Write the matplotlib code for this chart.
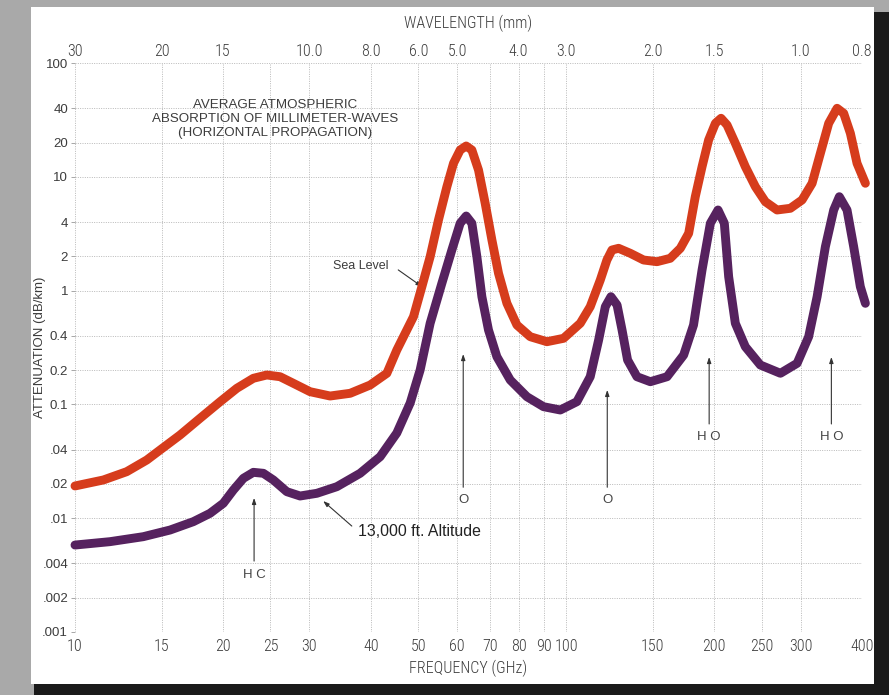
import matplotlib
matplotlib.use("Agg")
import matplotlib.pyplot as plt
from matplotlib.patches import Rectangle
from matplotlib import font_manager

# ---------------- data ----------------
sea_freq = [10, 11.42, 12.74, 14.0, 14.9, 16.36, 17.97, 19.74, 21.35, 23.07, 24.57, 26.15,
            27.83, 30.10, 33.06, 36.32, 39.89, 43.14, 45.2, 48.87, 50.83, 52.84, 54.94,
            57.15, 58.95, 60.82, 62.56, 64.25, 66.28, 68.39, 70.58, 72.80, 75.72, 79.36,
            84.48, 91.34, 98.74, 106.8, 111.9, 117.3, 121.0, 123.9, 127.8, 135.0, 143.7,
            153.0, 162.8, 170.7, 177.5, 183.1, 189.0, 194.9, 201.2, 206.6, 212.5, 220.9,
            231.5, 242.7, 254.3, 268.6, 285.9, 302, 316.6, 329.1, 342.2, 355.9, 367.1,
            378.8, 390.8, 406.4]
sea_atten = [0.0192, 0.02167, 0.02563, 0.03246, 0.03975, 0.0538, 0.0755, 0.1056, 0.1385,
             0.1696, 0.1813, 0.1751, 0.1532, 0.1293, 0.1185, 0.1252, 0.1480, 0.1877,
             0.3006, 0.590, 1.082, 1.986, 4.173, 8.18, 13.14, 17.2, 18.65, 17.2, 11.48,
             5.85, 2.784, 1.419, 0.7732, 0.4984, 0.3934, 0.3556, 0.3808, 0.5161, 0.7222,
             1.239, 1.857, 2.274, 2.353, 2.127, 1.857, 1.795, 1.922, 2.353, 3.187, 6.686,
             12.27, 21.05, 29.52, 32.67, 28.52, 19.70, 12.27, 8.18, 6.04, 5.109, 5.287,
             6.254, 8.768, 16.09, 29.52, 40.0, 36.14, 24.11, 13.14, 8.77]

alt_freq = [10, 11.78, 13.77, 15.61, 17.41, 18.83, 20.04, 21.01, 22.02, 23.07, 24.18, 25.34,
            26.99, 28.72, 31.07, 34.12, 38.05, 41.80, 45.2, 48.12, 50.42, 52.84, 55.82,
            58.50, 60.82, 62.56, 64.25, 65.78, 67.34, 69.46, 72.24, 76.91, 83.17, 89.9,
            97.23, 105.1, 111.9, 116.4, 120.1, 123.3, 126.9, 129.9, 133.3, 139.3, 148.3,
            160.4, 173.4, 181.6, 189.0, 196.5, 203.7, 209.8, 214.1, 220.9, 231.5, 248.4,
            272.9, 295.1, 311.5, 324.1, 336.9, 350.3, 359.7, 372.9, 384.7, 396.9, 406.4]
alt_atten = [0.00581, 0.00622, 0.00688, 0.00787, 0.00932, 0.01104, 0.01352, 0.0177, 0.02242,
             0.0253, 0.0248, 0.02166, 0.0171, 0.01567, 0.01655, 0.01892, 0.0248, 0.03471,
             0.05607, 0.1029, 0.2006, 0.5161, 1.159, 2.274, 3.903, 4.524, 3.903, 1.986,
             0.8842, 0.4506, 0.2626, 0.1638, 0.1168, 0.09546, 0.08929, 0.1056, 0.1751,
             0.3681, 0.7222, 0.8842, 0.747, 0.4506, 0.2456, 0.1751, 0.1583, 0.1751, 0.2717,
             0.4984, 1.517, 3.903, 5.109, 3.903, 1.325, 0.5161, 0.3214, 0.2219, 0.1877,
             0.2297, 0.3934, 0.8842, 2.431, 5.109, 6.686, 5.109, 2.431, 1.082, 0.773]

freq_ticks = [10, 15, 20, 25, 30, 40, 50, 60, 70, 80, 90, 100, 150, 200, 250, 300, 400]
freq_labels = ["10", "15", "20", "25", "30", "40", "50", "60", "70", "80", "90", "100",
               "150", "200", "250", "300", "400"]
wl_tick_freqs = [10, 15, 20, 30, 40, 50, 60, 80, 100, 150, 200, 300, 400]
wl_labels = ["30", "20", "15", "10.0", "8.0", "6.0", "5.0", "4.0", "3.0", "2.0", "1.5",
             "1.0", "0.8"]
atten_ticks = [100, 40, 20, 10, 4, 2, 1, 0.4, 0.2, 0.1, 0.04, 0.02, 0.01, 0.004, 0.002, 0.001]
atten_labels = ["100", "40", "20", "10", "4", "2", "1", "0.4", "0.2", "0.1", ".04", ".02",
                ".01", ".004", ".002", ".001"]

# ---------------- style ----------------
names = {f.name for f in font_manager.fontManager.ttflist}
narrow = next((n for n in ["Roboto Condensed", "Open Sans Condensed", "Liberation Sans Narrow",
                           "Roboto"] if n in names), "DejaVu Sans")
regular = ["Liberation Sans", "DejaVu Sans"]
txt = "#3c3c3c"
RED = "#d63c1c"
PURPLE = "#56225f"

W, H = 889, 695
fig = plt.figure(figsize=(W / 100, H / 100), dpi=100, facecolor="#a9a9a9")

# paper and dark borders of the scan
fig.patches.append(Rectangle((31 / W, 1 - 684 / H), (874 - 31) / W, (684 - 7) / H,
                             transform=fig.transFigure, facecolor="white", edgecolor="none", zorder=-10))
fig.patches.append(Rectangle((874 / W, 0), 15 / W, 1 - 12 / H, transform=fig.transFigure,
                             facecolor="#1a1a1a", edgecolor="none", zorder=-9))
fig.patches.append(Rectangle((34 / W, 0), (W - 34) / W, (H - 684) / H, transform=fig.transFigure,
                             facecolor="#1a1a1a", edgecolor="none", zorder=-9))

L, R, T, B = 75, 862, 63, 632
ax = fig.add_axes([L / W, 1 - B / H, (R - L) / W, (B - T) / H])
ax.set_facecolor("none")
ax.set_xscale("log")
ax.set_yscale("log")
ax.set_xlim(10, 400)
ax.set_ylim(0.001, 100)
for s in ax.spines.values():
    s.set_visible(False)

ax.set_xticks(freq_ticks)
ax.set_xticklabels(freq_labels, fontfamily=narrow, fontweight="light", fontsize=11.5, color=txt)
ax.set_xticks([], minor=True)
ax.set_yticks(atten_ticks)
ax.set_yticklabels(atten_labels, fontfamily=regular, fontsize=9.5, color=txt)
ax.set_yticks([], minor=True)
ax.tick_params(axis="x", length=0, pad=5)
ax.tick_params(axis="y", length=3, width=0.6, color="#999999", pad=2)
ax.grid(True, which="major", color="#b8b8b8", linestyle=(0, (1, 1.4)), linewidth=0.7)

top = ax.twiny()
top.set_xscale("log")
top.set_xlim(10, 400)
for s in top.spines.values():
    s.set_visible(False)
top.set_xticks(wl_tick_freqs)
top.set_xticklabels(wl_labels, fontfamily=narrow, fontweight="light", fontsize=11.5, color=txt)
top.set_xticks([], minor=True)
top.tick_params(axis="x", length=0, pad=3)

ax.set_xlabel("FREQUENCY (GHz)", fontfamily=narrow, fontweight="light", fontsize=11.5,
              color=txt, labelpad=4)
top.set_xlabel("WAVELENGTH (mm)", fontfamily=narrow, fontweight="light", fontsize=11.5,
               color=txt, labelpad=11.5)
ax.set_ylabel("ATTENUATION (dB/km)", fontfamily=regular, fontsize=9.5, color=txt)
ax.yaxis.set_label_coords(-(L - 46) / (R - L), 0.5)

# curves
ax.plot(sea_freq, sea_atten, color=RED, linewidth=6.4, solid_joinstyle="round",
        solid_capstyle="round", zorder=5, clip_on=False)
ax.plot(alt_freq, alt_atten, color=PURPLE, linewidth=6.4, solid_joinstyle="round",
        solid_capstyle="round", zorder=5, clip_on=False)

# title block
ax.text(0.254, 0.902, "AVERAGE ATMOSPHERIC\nABSORPTION OF MILLIMETER-WAVES\n(HORIZONTAL PROPAGATION)",
        transform=ax.transAxes, ha="center", va="center", fontfamily=regular, fontsize=9.6,
        color=txt, linespacing=1.2)

arrow_kw = dict(arrowstyle="-|>,head_length=0.35,head_width=0.12", color="#333333", lw=0.8,
                shrinkA=0, shrinkB=0)

# curve labels
ax.annotate("", xy=(50.9, 1.08), xytext=(45.5, 1.52), arrowprops=arrow_kw)
ax.text(43.4, 1.64, "Sea Level", ha="right", va="center", fontfamily=regular, fontsize=9,
        color=txt)
ax.annotate("", xy=(32.0, 0.01416), xytext=(36.6, 0.00853), arrowprops=arrow_kw)
ax.text(37.7, 0.0076, "13,000 ft. Altitude", ha="left", va="center", fontfamily=regular,
        fontsize=11.4, color="#222222")

# absorbing molecule markers
markers = [(23.15, 0.01507, 0.0042, 0.00317, "H C"),
           (61.7, 0.277, 0.0187, 0.0145, "O"),
           (121.2, 0.134, 0.0187, 0.0145, "O"),
           (195.4, 0.261, 0.0673, 0.0518, "H O"),
           (346.5, 0.261, 0.0673, 0.0518, "H O")]
for f, tip, tail, lab_y, lab in markers:
    ax.annotate("", xy=(f, tip), xytext=(f, tail), arrowprops=arrow_kw)
    ax.text(f, lab_y, lab, ha="center", va="center", fontfamily=regular, fontsize=9.5,
            color="#444444")

fig.savefig("out.png", dpi=100, facecolor=fig.get_facecolor())
